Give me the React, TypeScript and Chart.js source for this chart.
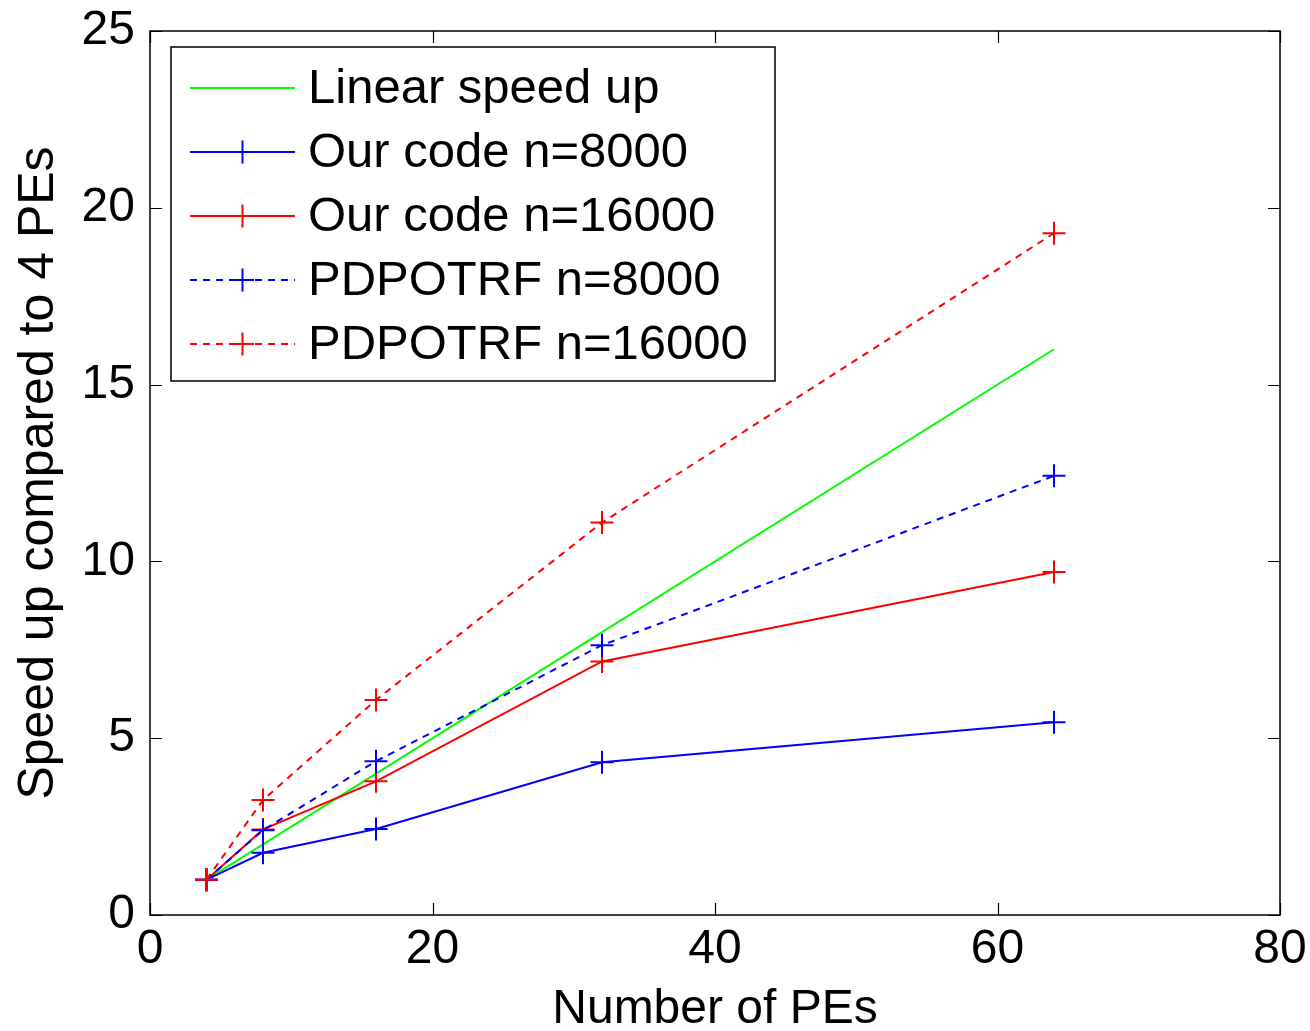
import React, { useEffect, useRef } from "react";
import { Chart, registerables } from "chart.js";

Chart.register(...registerables);

// ---- data ----
const peCounts = [4, 8, 16, 32, 64];
const linearSpeedup = [1, 2, 4, 8, 16];
const ourCode8000 = [1, 1.76, 2.43, 4.32, 5.45];
const ourCode16000 = [1, 2.42, 3.78, 7.17, 9.7];
const pdpotrf8000 = [1, 2.4, 4.35, 7.63, 12.42];
const pdpotrf16000 = [1, 3.25, 6.08, 11.1, 19.28];

const seriesLabels = [
  "Linear speed up",
  "Our code n=8000",
  "Our code n=16000",
  "PDPOTRF n=8000",
  "PDPOTRF n=16000",
];
const xTickValues = [0, 20, 40, 60, 80];
const yTickValues = [0, 5, 10, 15, 20, 25];
const xTitle = "Number of PEs";
const yTitle = "Speed up compared to 4 PEs";

const FONT = '"Liberation Sans", Arial, Helvetica, sans-serif';
const GREEN = "rgb(0,255,0)";
const BLUE = "rgb(0,0,255)";
const RED = "rgb(255,0,0)";
const DASH = [7, 6];

const framePlugin = {
  id: "matlabFrame",
  afterDatasetsDraw(chart: any) {
    const { ctx, chartArea } = chart;
    const { left, right, top, bottom } = chartArea;
    const xs = chart.scales.x;
    const ys = chart.scales.y;
    const tl = 12;
    ctx.save();
    ctx.strokeStyle = "#000";
    ctx.lineWidth = 1.5;
    ctx.setLineDash([]);
    ctx.strokeRect(left, top, right - left, bottom - top);
    ctx.beginPath();
    xTickValues.forEach((v) => {
      const px = Math.round(xs.getPixelForValue(v)) + 0.5;
      ctx.moveTo(px, bottom);
      ctx.lineTo(px, bottom - tl);
      ctx.moveTo(px, top);
      ctx.lineTo(px, top + tl);
    });
    yTickValues.forEach((v) => {
      const py = Math.round(ys.getPixelForValue(v)) + 0.5;
      ctx.moveTo(left, py);
      ctx.lineTo(left + tl, py);
      ctx.moveTo(right, py);
      ctx.lineTo(right - tl, py);
    });
    ctx.lineWidth = 1.2;
    ctx.stroke();
    ctx.restore();
  },
};

const legendPlugin = {
  id: "matlabLegend",
  afterDraw(chart: any) {
    const { ctx } = chart;
    const boxL = 171, boxT = 47, boxR = 775, boxB = 381;
    ctx.save();
    ctx.fillStyle = "#fff";
    ctx.fillRect(boxL, boxT, boxR - boxL, boxB - boxT);
    ctx.strokeStyle = "#000";
    ctx.lineWidth = 1.5;
    ctx.setLineDash([]);
    ctx.strokeRect(boxL, boxT, boxR - boxL, boxB - boxT);
    const rowStart = 88;
    const rowGap = 64;
    const lineX0 = 190, lineX1 = 295, textX = 308;
    chart.data.datasets.forEach((ds: any, i: number) => {
      const y = rowStart + i * rowGap;
      ctx.strokeStyle = ds.borderColor;
      ctx.lineWidth = ds.borderWidth;
      ctx.setLineDash(ds.borderDash || []);
      ctx.beginPath();
      ctx.moveTo(lineX0, y);
      ctx.lineTo(lineX1, y);
      ctx.stroke();
      ctx.setLineDash([]);
      if (ds.pointRadius > 0) {
        const cx = (lineX0 + lineX1) / 2;
        const r = ds.pointRadius;
        ctx.lineWidth = ds.pointBorderWidth;
        ctx.beginPath();
        ctx.moveTo(cx - r, y);
        ctx.lineTo(cx + r, y);
        ctx.moveTo(cx, y - r);
        ctx.lineTo(cx, y + r);
        ctx.stroke();
      }
      ctx.fillStyle = "#000";
      ctx.font = `49px ${FONT}`;
      ctx.textAlign = "left";
      ctx.textBaseline = "middle";
      ctx.fillText(ds.label, textX, y + 1);
    });
    ctx.restore();
  },
};

function makeDataset(label: string, values: number[], color: string, dashed: boolean, markers: boolean, order: number) {
  return {
    label,
    order,
    data: peCounts.map((x, i) => ({ x, y: values[i] })),
    borderColor: color,
    backgroundColor: color,
    borderWidth: 2,
    borderDash: dashed ? DASH : [],
    pointStyle: "cross",
    pointRadius: markers ? 11.5 : 0,
    pointHoverRadius: markers ? 11.5 : 0,
    pointBorderColor: color,
    pointBorderWidth: 2,
    fill: false,
    tension: 0,
  };
}

function zeroPadding(s: any) {
  s.paddingTop = 0;
  s.paddingBottom = 0;
  s.paddingLeft = 0;
  s.paddingRight = 0;
}

export default function App() {
  const canvasRef = useRef<HTMLCanvasElement | null>(null);

  useEffect(() => {
    const canvas = canvasRef.current;
    if (!canvas) return;
    const chart = new Chart(canvas, {
      type: "line",
      data: {
        datasets: [
          makeDataset(seriesLabels[0], linearSpeedup, GREEN, false, false, 4),
          makeDataset(seriesLabels[1], ourCode8000, BLUE, false, true, 3),
          makeDataset(seriesLabels[2], ourCode16000, RED, false, true, 2),
          makeDataset(seriesLabels[3], pdpotrf8000, BLUE, true, true, 1),
          makeDataset(seriesLabels[4], pdpotrf16000, RED, true, true, 0),
        ] as any,
      },
      options: {
        animation: false,
        responsive: false,
        maintainAspectRatio: false,
        devicePixelRatio: 1,
        layout: { padding: { top: 31, right: 30, left: 0, bottom: 0 } },
        plugins: {
          legend: { display: false },
          tooltip: { enabled: false },
        },
        scales: {
          x: {
            type: "linear",
            min: 0,
            max: 80,
            afterFit: (s: any) => {
              s.height = 116;
              zeroPadding(s);
            },
            afterBuildTicks: (s: any) => {
              s.ticks = xTickValues.map((v) => ({ value: v }));
            },
            grid: { display: false, drawTicks: false },
            border: { display: false },
            ticks: {
              color: "#000",
              font: { family: FONT, size: 48 },
              padding: 6,
              maxRotation: 0,
              autoSkip: false,
            },
            title: {
              display: true,
              text: xTitle,
              color: "#000",
              font: { family: FONT, size: 48, lineHeight: 1 },
              padding: { top: 0, bottom: -3 },
            },
          },
          y: {
            type: "linear",
            min: 0,
            max: 25,
            afterFit: (s: any) => {
              s.width = 150;
              zeroPadding(s);
            },
            afterBuildTicks: (s: any) => {
              s.ticks = yTickValues.map((v) => ({ value: v }));
            },
            grid: { display: false, drawTicks: false },
            border: { display: false },
            ticks: {
              color: "#000",
              font: { family: FONT, size: 48 },
              padding: 15,
              autoSkip: false,
            },
            title: {
              display: true,
              text: yTitle,
              color: "#000",
              font: { family: FONT, size: 50, lineHeight: 1 },
              padding: { top: 14, bottom: 0 },
            },
          },
        },
      },
      plugins: [framePlugin, legendPlugin],
    });
    return () => chart.destroy();
  }, []);

  return (
    <div style={{ position: "absolute", left: 0, top: 0, width: 1310, height: 1031, background: "#fff" }}>
      <canvas ref={canvasRef} width={1310} height={1031} style={{ display: "block" }} />
    </div>
  );
}
